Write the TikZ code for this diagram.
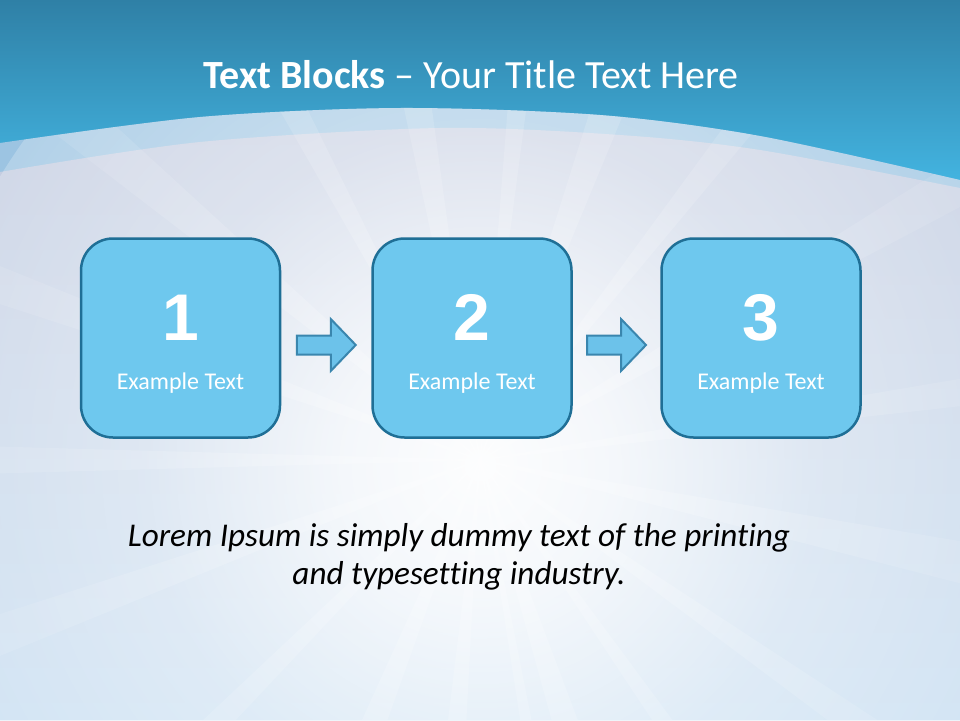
\documentclass[tikz,border=0pt]{standalone}
\usepackage{fontspec}
\setmainfont{Carlito}[Ligatures=NoCommon]
\newfontfamily\digitfont{Liberation Sans}
\usetikzlibrary{fadings,calc}
\definecolor{topdark}{HTML}{2F80A6}
\definecolor{toplight}{HTML}{45B9E6}
\definecolor{bandcol}{HTML}{9CC4E2}
\definecolor{bodytop}{HTML}{C4CCE0}
\definecolor{bodymid}{HTML}{C3D2E7}
\definecolor{bodybot}{HTML}{C6DDF1}
\definecolor{boxfill}{HTML}{6EC8EE}
\definecolor{boxline}{HTML}{1F6F96}
\definecolor{arrfill}{HTML}{6CC2EA}
\definecolor{arrline}{HTML}{3A86AE}
\pgfdeclareradialshading{glowshade}{\pgfpointorigin}{color(0bp)=(white); color(6bp)=(black!15); color(15bp)=(black!55); color(30bp)=(black!88); color(45bp)=(black); color(50bp)=(black)}
\pgfdeclarefading{glowfade}{\pgfuseshading{glowshade}}
\tikzset{
  stepbox/.style={draw=boxline, line width=2.5pt, fill=boxfill, rounded corners=32pt,
    minimum width=199pt, minimum height=199pt, inner sep=0pt},
  numtext/.style={text=white, font=\digitfont\bfseries\fontsize{66}{70}\selectfont, anchor=base, inner sep=0pt},
  exttext/.style={text=white, font=\fontsize{24}{28}\selectfont, anchor=base, inner sep=0pt},
  blockarrow/.style={draw=arrline, line width=2pt, fill=arrfill, line join=miter},
  titletext/.style={text=white, font=\fontsize{40}{48}\selectfont, anchor=base, inner sep=0pt},
  loremtext/.style={text=black, font=\fontsize{33.2}{38.5}\selectfont\itshape, align=center, inner sep=0pt}
}
\begin{document}
\begin{tikzpicture}[x=1pt,y=-1pt]
\useasboundingbox (0,0) rectangle (960,720);
% background
\shade[top color=topdark, bottom color=toplight] (0,0) rectangle (960,200);
\fill[bandcol] plot[smooth] coordinates {(0,143) (200,117) (400,108) (600,115) (760,136) (960,180)} -- (960,720) -- (0,720) -- cycle;
\shade[top color=bodytop, middle color=bodymid, bottom color=bodybot] plot[smooth] coordinates {(0,172) (200,142) (440,128) (620,135) (760,150) (960,188)} -- (960,720) -- (0,720) -- cycle;
% rays and glow
\begin{scope}
\clip plot[smooth] coordinates {(0,143) (200,117) (400,108) (600,115) (760,136) (960,180)} -- (960,720) -- (0,720) -- cycle;
\begin{scope}
\clip foreach \a/\w in {-140/2.5,-118/1.8,-100/2.2,-84/1.5,-70/2.5,-52/1.8,-30/2.2,-8/1.6,12/2.4,35/1.8,55/1.5,72/2.6,80/1.2,95/2.0,112/2.4,135/1.8,160/2.2,180/1.6,-160/2.0} {(480,460) -- +({\a-\w}:800) -- +({\a+\w}:800) -- cycle};
\fill[white, opacity=0.22, path fading=glowfade] (480,460) circle (800);
\end{scope}
\fill[white, opacity=0.97, path fading=glowfade] (480,465) circle (560);
\end{scope}
% title
\node[titletext] (title) at (471,88) {\textbf{Text Blocks} – Your Title Text Here};
% boxes
\node[stepbox] (b1) at (180.5,338) {};
\node[stepbox] (b2) at (472,338) {};
\node[stepbox] (b3) at (761,338) {};
\foreach \i in {1,2,3}{
  \node[numtext] (n\i) at ($(b\i.center)+(0,2)$) {\i};
  \node[exttext] (e\i) at ($(b\i.center)+(0,51)$) {Example Text};
}
% block arrows
\coordinate (a1) at ($(b1.east)!0.5!(b2.west)+(0,7)$);
\coordinate (a2) at ($(b2.east)!0.5!(b3.west)+(0,7)$);
\foreach \c in {a1,a2}{
  \draw[blockarrow] (\c) ++(-29.5,-9.5) -- ++(34,0) -- ++(0,-16.5) -- ++(25,26) -- ++(-25,26) -- ++(0,-16.5) -- ++(-34,0) -- cycle;
}
% lorem
\node[loremtext] (lorem) at (459,557) {Lorem Ipsum is simply dummy text of the printing\\and typesetting industry.};
\end{tikzpicture}
\end{document}
